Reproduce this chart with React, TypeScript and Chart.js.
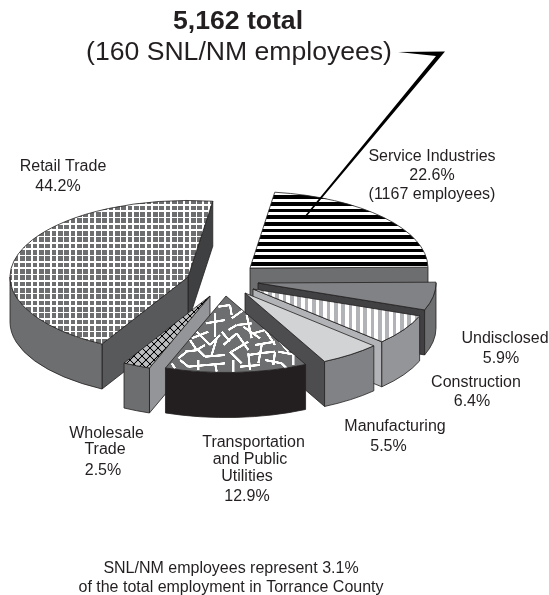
import React, { useEffect, useRef } from "react";
import { Chart, registerables } from "chart.js";

Chart.register(...registerables);

const categories = ["Service Industries", "Undisclosed", "Construction", "Manufacturing", "Transportation and Public Utilities", "Wholesale Trade", "Retail Trade"];
const shares = [22.6, 5.9, 6.4, 5.5, 12.9, 2.5, 44.2];
const explodeX = [31, 39, 34, 26, 7, -9, -31];
const explodeY = [-13, 2, 8, 12, 15, 15, -4];
const paintOrder = [6, 0, 1, 2, 3, 5, 4];
const rimColors = ["#6d6e70", "#6d6e70", "#939598", "#808285", "#231f20", "#6d6e70", "#6d6e70"];
const startWallColors = ["#6d6e70", "#6d6e70", "#939598", "#808285", "#231f20", "#939598", "#58595b"];
const endWallColors = ["#6d6e70", "#414042", "#b1b3b6", "#4d4d4f", "#231f20", "#6d6e70", "#3f4041"];

const INK = "#231f20";
const TILT = 0.43;
const DEPTH = 45;
const RADIUS = 178;

type Label = { text: string; x: number; y: number; font?: string };
const BODY = '16px "Liberation Sans", Arial, sans-serif';
const labels: Label[] = [
  { text: "5,162 total", x: 238, y: 29, font: 'bold 26.6px "Liberation Sans", Arial, sans-serif' },
  { text: "(160 SNL/NM employees)", x: 239, y: 60, font: '26.6px "Liberation Sans", Arial, sans-serif' },
  { text: "Retail Trade", x: 63, y: 171 },
  { text: "44.2%", x: 58, y: 191 },
  { text: "Service Industries", x: 432, y: 161 },
  { text: "22.6%", x: 432, y: 180 },
  { text: "(1167 employees)", x: 432, y: 199 },
  { text: "Undisclosed", x: 505, y: 343 },
  { text: "5.9%", x: 501, y: 363 },
  { text: "Construction", x: 476, y: 387 },
  { text: "6.4%", x: 472, y: 406 },
  { text: "Manufacturing", x: 395, y: 431 },
  { text: "5.5%", x: 388.5, y: 451 },
  { text: "Transportation", x: 253.5, y: 447 },
  { text: "and Public", x: 250, y: 464 },
  { text: "Utilities", x: 247, y: 481 },
  { text: "12.9%", x: 247, y: 501 },
  { text: "Wholesale", x: 106.5, y: 438 },
  { text: "Trade", x: 105, y: 454 },
  { text: "2.5%", x: 103, y: 475 },
  { text: "SNL/NM employees represent 3.1%", x: 231, y: 573 },
  { text: "of the total employment in Torrance County", x: 231, y: 592 },
];

const crackSegments = [
  [160, 35, 195, 30], [195, 30, 200, 60], [200, 70, 235, 45], [150, 55, 150, 125], [122, 85, 180, 75],
  [190, 105, 215, 90], [215, 90, 260, 85], [245, 60, 260, 130], [235, 95, 285, 130], [95, 110, 135, 150],
  [80, 130, 130, 110], [135, 150, 165, 120], [155, 130, 140, 180], [175, 150, 215, 115], [215, 115, 250, 165],
  [200, 170, 250, 140], [195, 170, 230, 205], [300, 105, 330, 150], [270, 150, 330, 140], [280, 175, 330, 170],
  [290, 150, 280, 205], [330, 170, 325, 210], [60, 170, 100, 165], [40, 190, 65, 170], [100, 165, 120, 185],
  [120, 185, 180, 180], [100, 195, 100, 225], [45, 195, 70, 215], [125, 210, 180, 205], [150, 205, 155, 230],
  [205, 195, 205, 230], [250, 180, 285, 175], [250, 175, 255, 225], [340, 170, 395, 180], [385, 180, 385, 210],
  [350, 205, 365, 220], [20, 205, 30, 220], [75, 135, 95, 165], [170, 110, 195, 140], [300, 195, 350, 205],
  [70, 215, 125, 210], [225, 215, 285, 210], [345, 140, 370, 170], [120, 150, 95, 165], [265, 115, 300, 105],
];

type Tile = { pattern: CanvasPattern; ox: number; oy: number };
const tiles = new Map<CanvasPattern, Tile>();

function makeTile(w: number, h: number, ox: number, oy: number, paint: (c: CanvasRenderingContext2D) => void): CanvasPattern {
  const canvas = document.createElement("canvas");
  canvas.width = w;
  canvas.height = h;
  const c = canvas.getContext("2d")!;
  paint(c);
  const pattern = c.createPattern(canvas, "repeat")!;
  tiles.set(pattern, { pattern, ox, oy });
  return pattern;
}

function buildFills(): (string | CanvasPattern)[] {
  const hStripes = makeTile(6, 20, 0, 2, (c) => {
    c.fillStyle = "#ffffff";
    c.fillRect(0, 0, 6, 20);
    c.fillStyle = "#000000";
    c.fillRect(0, 0, 6, 11);
  });
  const vStripes = makeTile(22, 6, 4, 0, (c) => {
    c.fillStyle = "#ffffff";
    c.fillRect(0, 0, 22, 6);
    c.fillStyle = "#b1b3b6";
    c.fillRect(0, 0, 11, 6);
  });
  const cracks = makeTile(435, 255, 165, 295, (c) => {
    c.fillStyle = "#6d6e70";
    c.fillRect(0, 0, 435, 255);
    c.strokeStyle = "#ffffff";
    c.lineWidth = 7;
    for (const [a, b, d, e] of crackSegments) {
      c.beginPath();
      c.moveTo(a, b);
      c.lineTo(d, e);
      c.stroke();
    }
  });
  const lattice = makeTile(24, 24, 2, 0, (c) => {
    c.fillStyle = "#bcbec0";
    c.fillRect(0, 0, 24, 24);
    c.strokeStyle = "#000000";
    c.lineWidth = 3.5;
    for (const s of [-24, 0, 24]) {
      c.beginPath();
      c.moveTo(s, 0);
      c.lineTo(s + 24, 24);
      c.stroke();
      c.beginPath();
      c.moveTo(s + 24, 0);
      c.lineTo(s, 24);
      c.stroke();
    }
  });
  const grid = makeTile(19, 19, 1, 3, (c) => {
    c.fillStyle = "#ffffff";
    c.fillRect(0, 0, 19, 19);
    c.fillStyle = "#6d6e70";
    c.fillRect(0, 0, 14, 14);
  });
  return [hStripes, "#808285", vStripes, "#d1d3d4", cracks, lattice, grid];
}

const pie3d = {
  id: "pie3d",
  beforeDatasetsDraw(chart: any) {
    const ctx: CanvasRenderingContext2D = chart.ctx;
    const arcs = chart.getDatasetMeta(0).data;
    ctx.lineWidth = 0.8;
    ctx.strokeStyle = INK;
    ctx.lineJoin = "round";
    for (const i of paintOrder) {
      const arc = arcs[i];
      const { x, y, startAngle, endAngle, outerRadius } = arc.getProps(["x", "y", "startAngle", "endAngle", "outerRadius"], true);
      const X = x + explodeX[i];
      const Y = y + explodeY[i];
      const pt = (a: number): [number, number] => [X + outerRadius * Math.cos(a), Y + TILT * outerRadius * Math.sin(a)];
      const wall = (a: number, color: string) => {
        const [px, py] = pt(a);
        ctx.beginPath();
        ctx.moveTo(X, Y);
        ctx.lineTo(px, py);
        ctx.lineTo(px, py + DEPTH);
        ctx.lineTo(X, Y + DEPTH);
        ctx.closePath();
        ctx.fillStyle = color;
        ctx.fill();
        ctx.stroke();
      };
      if (Math.cos(endAngle) > 0) wall(endAngle, endWallColors[i]);
      if (Math.cos(startAngle) < 0) wall(startAngle, startWallColors[i]);
      let s = startAngle;
      let e = endAngle;
      if (s < 0) {
        s += Math.PI * 2;
        e += Math.PI * 2;
      }
      for (const base of [0, Math.PI * 2]) {
        const a0 = Math.max(s, base);
        const a1 = Math.min(e, base + Math.PI);
        if (a1 > a0) {
          ctx.beginPath();
          ctx.ellipse(X, Y, outerRadius, TILT * outerRadius, 0, a0, a1);
          ctx.ellipse(X, Y + DEPTH, outerRadius, TILT * outerRadius, 0, a1, a0, true);
          ctx.closePath();
          ctx.fillStyle = rimColors[i];
          ctx.fill();
          ctx.stroke();
        }
      }
      ctx.save();
      ctx.translate(X, Y);
      ctx.scale(1, TILT);
      ctx.translate(-x, -y);
      const fill = arc.options.backgroundColor;
      const tile = tiles.get(fill);
      if (tile) {
        tile.pattern.setTransform(ctx.getTransform().inverse().translate(tile.ox, tile.oy).scale(1 / 3, 1 / 3));
      }
      arc.draw(ctx);
      ctx.restore();
      ctx.beginPath();
      ctx.moveTo(X, Y);
      ctx.ellipse(X, Y, outerRadius, TILT * outerRadius, 0, startAngle, endAngle);
      ctx.closePath();
      ctx.stroke();
    }
    return false;
  },
  afterDraw(chart: any) {
    const ctx: CanvasRenderingContext2D = chart.ctx;
    ctx.save();
    ctx.fillStyle = "#000000";
    ctx.beginPath();
    ctx.moveTo(398, 52);
    ctx.lineTo(445, 51.5);
    ctx.lineTo(306, 217);
    ctx.lineTo(304, 217);
    ctx.lineTo(436, 56);
    ctx.closePath();
    ctx.fill();
    ctx.fillStyle = INK;
    ctx.textAlign = "center";
    ctx.textBaseline = "alphabetic";
    for (const l of labels) {
      ctx.font = l.font ?? BODY;
      ctx.fillText(l.text, l.x, l.y);
    }
    ctx.restore();
  },
};

export default function App() {
  const ref = useRef<HTMLCanvasElement>(null);
  useEffect(() => {
    const chart = new Chart(ref.current!, {
      type: "pie",
      data: {
        labels: categories,
        datasets: [{ data: shares, backgroundColor: buildFills(), borderWidth: 0 }],
      },
      options: {
        animation: false,
        responsive: false,
        rotation: 8,
        radius: RADIUS,
        layout: { padding: { left: 0, top: 0, right: 111, bottom: 33 } },
        events: [],
        plugins: { legend: { display: false }, tooltip: { enabled: false }, title: { display: false } },
      },
      plugins: [pie3d],
    } as any);
    return () => chart.destroy();
  }, []);
  return (
    <div style={{ position: "absolute", left: 0, top: 0, width: 549, height: 595, background: "#fff" }}>
      <canvas ref={ref} width={549} height={595} style={{ display: "block" }} />
    </div>
  );
}
